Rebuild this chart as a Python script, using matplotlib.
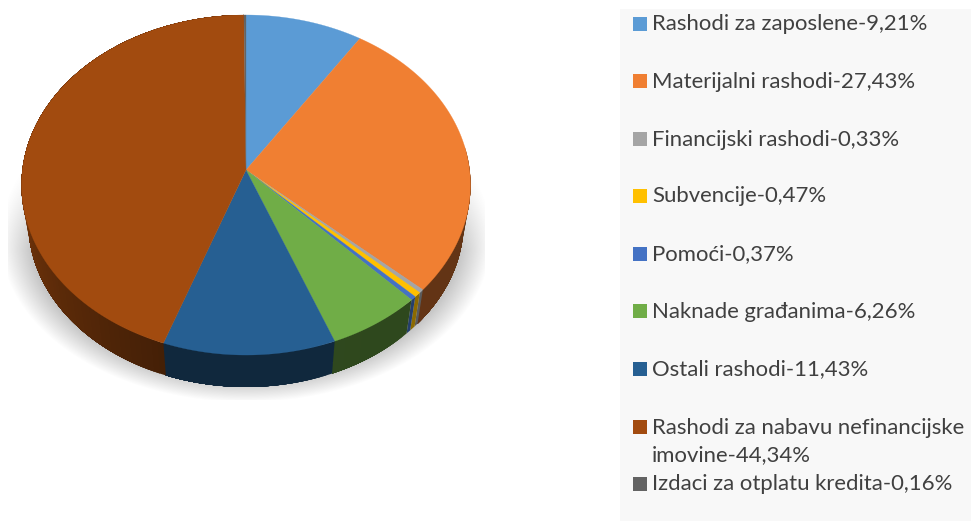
import numpy as np
import matplotlib
matplotlib.use("Agg")
import matplotlib.pyplot as plt
from matplotlib.patches import Polygon, Rectangle

# Udjeli rashoda u %
labels = ["Rashodi za zaposlene-9,21%", "Materijalni rashodi-27,43%", "Financijski rashodi-0,33%",
          "Subvencije-0,47%", "Pomoći-0,37%", "Naknade građanima-6,26%", "Ostali rashodi-11,43%",
          "Rashodi za nabavu nefinancijske\nimovine-44,34%", "Izdaci za otplatu kredita-0,16%"]
shares = [9.21, 27.43, 0.33, 0.47, 0.37, 6.26, 11.43, 44.34, 0.16]
colors = ["#5B9BD5", "#F07F32", "#A5A5A5", "#FFC000", "#4472C4", "#70AD47", "#265F92", "#A24B0F", "#636363"]
legend_y = [24, 81, 139, 196, 254, 311, 369, 427, 484]

# Geometrija u pikselima
cx, cy = 246, 170
a, b, k = 168.7, 223.6, 0.0883
depth = 37.5
shrink = 0.97


def top_xy(theta):
    u, v = np.sin(theta), np.cos(theta)
    w = 1 + k * v
    return cx + b * u / w, cy - a * v / w


def bottom_xy(theta):
    x, y = top_xy(theta)
    return cx + (x - cx) * shrink, cy + (y - cy) * shrink + depth


def side_factor(theta, small):
    if small:
        return 0.55
    deg = np.degrees(theta) % 360
    return float(np.interp(deg, [0, 200, 285, 360], [0.4, 0.42, 0.8, 0.8]))


def side_poly(t0, t1):
    ts = np.linspace(t0, t1, max(int(np.degrees(t1 - t0)), 1) + 1)
    tx, ty = top_xy(ts)
    bx, by = bottom_xy(ts)
    return np.column_stack([np.r_[tx, bx[::-1]], np.r_[ty, by[::-1]]])


fig = plt.figure(figsize=(9.71, 5.21), dpi=100)
ax = fig.add_axes([0, 0, 1, 1])

# Sjena ispod kolača
yy, xx = np.mgrid[140:400, 8:485]
dist = np.hypot((xx + 0.5 - 246) / 232, (yy + 0.5 - 238) / 155)
shade = np.clip((1.06 - dist) / 0.16, 0, 1)
shade = shade * np.clip((yy - 150) / 100, 0, 1)
rgba = np.ones(yy.shape + (4,))
rgba[..., :3] = 0.62
rgba[..., 3] = shade * 0.7
ax.imshow(rgba, extent=(8, 485, 400, 140), aspect="auto", interpolation="bilinear", zorder=1)

ax.set_xlim(0, 971)
ax.set_ylim(521, 0)
ax.axis("off")

edges = np.radians(np.cumsum([0] + shares) * 3.6)

# Bočna strana, svaki dio se preklapa do kraja isječka da nema pruga
for i, color in enumerate(colors):
    n = max(int((edges[i + 1] - edges[i]) / np.radians(1.5)), 1)
    steps = np.linspace(edges[i], edges[i + 1], n + 1)
    rgb = np.array(matplotlib.colors.to_rgb(color))
    for t0, t1 in zip(steps[:-1], steps[1:]):
        if np.cos((t0 + t1) / 2) > 0.15:
            continue
        c = rgb * side_factor((t0 + t1) / 2, shares[i] < 1)
        ax.add_patch(Polygon(side_poly(t0, edges[i + 1]), closed=True, facecolor=c, edgecolor="none", zorder=2))

# Gornja strana
for i, color in enumerate(colors):
    ts = np.linspace(edges[i], edges[i + 1], max(int(np.degrees(edges[i + 1] - edges[i])), 2) + 1)
    x, y = top_xy(ts)
    pts = np.column_stack([np.r_[cx, x], np.r_[cy, y]])
    ax.add_patch(Polygon(pts, closed=True, facecolor=color, edgecolor=color, linewidth=0.2, zorder=3))

# Legenda
ax.add_patch(Rectangle((620, 9), 351, 512, facecolor="#F8F8F8", edgecolor="none", zorder=1))
for label, color, y in zip(labels, colors, legend_y):
    ax.add_patch(Rectangle((633, y - 7), 14, 14, facecolor=color, edgecolor="none", zorder=4))
    for j, line in enumerate(label.split("\n")):
        ax.text(652, y + 6.5 + 28 * j, line, fontsize=15.9, family="Lato", color="#404040",
                va="baseline", zorder=4)

fig.savefig("out.png", dpi=100)
